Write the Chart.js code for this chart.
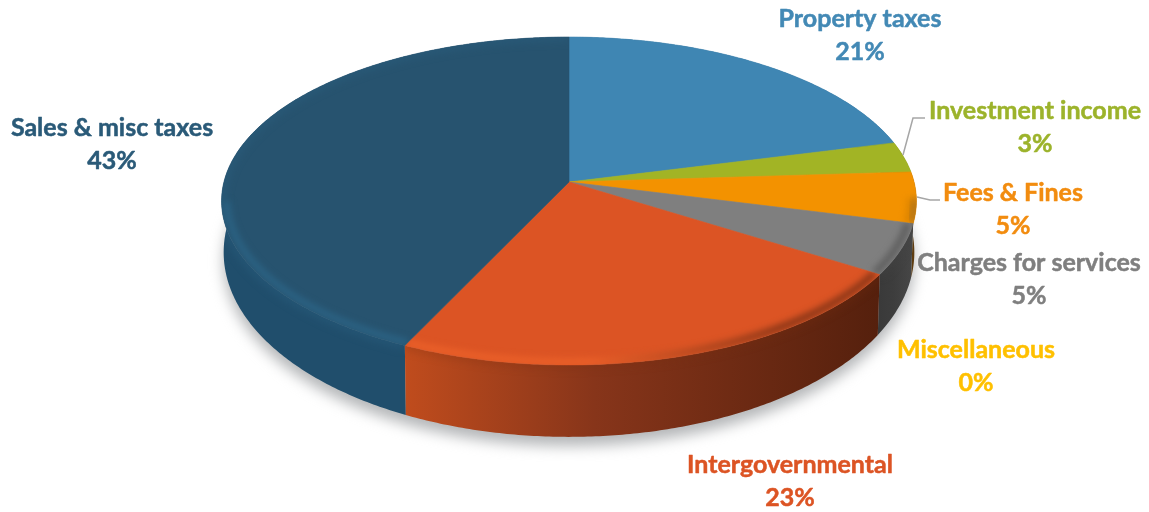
<!DOCTYPE html>
<html>
<head>
<meta charset="utf-8">
<title>Revenue by source</title>
<script src="https://cdn.jsdelivr.net/npm/chart.js@4"></script>
<style>
  html, body { margin: 0; padding: 0; background: #fff; }
  #wrap { position: relative; width: 1149px; height: 512px; }
</style>
</head>
<body>
<div id="wrap"><canvas id="revenueChart"></canvas></div>
<script>
const categories = ['Property taxes', 'Investment income', 'Fees & Fines', 'Charges for services', 'Miscellaneous', 'Intergovernmental', 'Sales & misc taxes'];
const shares = [21, 3, 5, 5, 0, 23, 43];
const sliceColors = ['#3f86b3', '#a2b425', '#f39200', '#7f7f7f', '#ffc000', '#dc5424', '#27536f'];
const wallLeft = ['#2f6485', '#6d7a18', '#5e3c10', '#3a3a3a', '#b08600', '#c04c1d', '#204e6c'];
const wallMid = ['#2f6485', '#6d7a18', '#5e3c10', '#3d3d3d', '#b08600', '#87351a', '#1e4762'];
const wallRight = ['#2f6485', '#6d7a18', '#5e3c10', '#474747', '#b08600', '#55200d', '#1c4259'];
const rimColors = ['#4a93c0', '#aabc30', '#d88200', '#5e5e5e', '#ffc000', '#ea6029', '#2b6283'];
const labelColors = ['#4389b5', '#9cb32b', '#f28c0f', '#7f7f7f', '#ffc000', '#dc5424', '#2a5a78'];

// label centres, one per category
const labelX = [860, 1035, 1013, 1029, 976, 790, 112];
const labelY = [19, 111, 193, 263, 350, 465, 128];
const lineGap = 32.5;

// tilt of the disc: circle radius -> screen radii, plus perspective
const tiltX = 1.896;
const tiltY = 0.889;
const persp = 0.116;
const baseDrop = 49;
const baseTiltY = 1.0;
const baseInset = 0.994;

function toScreen(arc, a, scale, onBase) {
    const u = Math.cos(a) * scale, v = Math.sin(a) * scale;
    const w = 1 - persp * v;
    const R = arc.outerRadius;
    if (onBase) {
        return [arc.x + R * tiltX * baseInset * u / w, arc.y + baseDrop + R * baseTiltY * v / w];
    }
    return [arc.x + R * tiltX * u / w, arc.y + R * tiltY * v / w];
}

function curve(ctx, arc, from, to, scale, onBase, join) {
    const steps = Math.max(2, Math.ceil(Math.abs(to - from) / 0.01));
    for (let i = 0; i <= steps; i++) {
        const p = toScreen(arc, from + (to - from) * i / steps, scale, onBase);
        if (i === 0 && !join) ctx.moveTo(p[0], p[1]);
        else ctx.lineTo(p[0], p[1]);
    }
}

function slicePath(ctx, arc) {
    ctx.beginPath();
    ctx.moveTo(arc.x, arc.y);
    curve(ctx, arc, arc.startAngle, arc.endAngle, 1, false, true);
    ctx.closePath();
}

function wallPath(ctx, arc) {
    ctx.beginPath();
    curve(ctx, arc, arc.startAngle, arc.endAngle, 1, false, false);
    curve(ctx, arc, arc.endAngle, arc.startAngle, 1, true, true);
    ctx.closePath();
}

const tiltedPie = {
    id: 'tiltedPie',
    beforeDatasetsDraw(chart) {
        const ctx = chart.ctx;
        const arcs = chart.getDatasetMeta(0).data;
        const first = arcs[0];

        // soft shadow under the disc
        ctx.save();
        ctx.filter = 'blur(7px)';
        ctx.fillStyle = '#b4b6b8';
        ctx.translate(0, 9);
        ctx.beginPath();
        curve(ctx, first, 0, Math.PI * 2, 1, true, false);
        ctx.closePath();
        ctx.fill();
        ctx.restore();

        // outer walls, rear ones first
        const order = arcs.map((a, i) => i).sort((p, q) =>
            Math.sin((arcs[p].startAngle + arcs[p].endAngle) / 2) - Math.sin((arcs[q].startAngle + arcs[q].endAngle) / 2));
        order.forEach(i => {
            const arc = arcs[i];
            if (arc.endAngle - arc.startAngle <= 0) return;
            const a = toScreen(arc, arc.startAngle, 1, false);
            const b = toScreen(arc, arc.endAngle, 1, false);
            const g = ctx.createLinearGradient(Math.min(a[0], b[0]), 0, Math.max(a[0], b[0]), 0);
            g.addColorStop(0, wallLeft[i]);
            g.addColorStop(0.4, wallMid[i]);
            g.addColorStop(1, wallRight[i]);
            ctx.fillStyle = g;
            wallPath(ctx, arc);
            ctx.fill();
        });

        // top faces
        arcs.forEach((arc, i) => {
            if (arc.endAngle - arc.startAngle <= 0) return;
            ctx.fillStyle = sliceColors[i];
            ctx.strokeStyle = sliceColors[i];
            ctx.lineWidth = 0.6;
            slicePath(ctx, arc);
            ctx.fill();
            ctx.stroke();
        });

        // rounded rim: a lighter band just inside the front edge of each face
        arcs.forEach((arc, i) => {
            const from = Math.max(arc.startAngle, 0.1);
            const to = Math.min(arc.endAngle, Math.PI - 0.12);
            if (to <= from) return;
            ctx.save();
            slicePath(ctx, arc);
            ctx.clip();
            ctx.filter = 'blur(3px)';
            const g = ctx.createLinearGradient(400, 0, 780, 0);
            g.addColorStop(0, rimColors[i]);
            g.addColorStop(0.5, rimColors[i]);
            g.addColorStop(1, i === 5 ? '#8a3617' : rimColors[i]);
            ctx.strokeStyle = g;
            ctx.lineWidth = 7;
            ctx.beginPath();
            curve(ctx, arc, from, to, 0.985, false, false);
            ctx.stroke();
            ctx.restore();
        });

        // soften the seam where face meets wall, on the front half only
        arcs.forEach((arc, i) => {
            if (arc.endAngle - arc.startAngle <= 0 || arc.endAngle < 0.1) return;
            ctx.save();
            wallPath(ctx, arc);
            ctx.clip();
            ctx.filter = 'blur(4px)';
            ctx.strokeStyle = i === 6 ? 'rgba(43,98,131,0.55)' : i === 5 ? 'rgba(120,45,15,0.35)' : 'rgba(70,70,70,0.5)';
            ctx.lineWidth = 6;
            ctx.beginPath();
            curve(ctx, arc, Math.max(arc.startAngle, 0.1), arc.endAngle, 1, false, false);
            ctx.stroke();
            ctx.restore();
        });

        return false;
    },
    // afterDatasetsDraw does not fire once the default draw is cancelled
    afterDraw(chart) {
        const ctx = chart.ctx;
        // leader lines for the two thin slices
        ctx.strokeStyle = '#a6a6a6';
        ctx.lineWidth = 1.5;
        ctx.beginPath();
        ctx.moveTo(903, 155);
        ctx.lineTo(913, 118);
        ctx.lineTo(925, 118);
        ctx.moveTo(917, 197);
        ctx.lineTo(930, 200);
        ctx.lineTo(940, 200);
        ctx.stroke();

        ctx.font = 'bold 25px Lato';
        ctx.textAlign = 'center';
        ctx.textBaseline = 'middle';
        ctx.lineWidth = 0.5;
        ctx.lineJoin = 'round';
        categories.forEach((name, i) => {
            ctx.fillStyle = labelColors[i];
            ctx.strokeStyle = labelColors[i];
            ctx.fillText(name, labelX[i], labelY[i]);
            ctx.strokeText(name, labelX[i], labelY[i]);
            ctx.fillText(shares[i] + '%', labelX[i], labelY[i] + lineGap);
            ctx.strokeText(shares[i] + '%', labelX[i], labelY[i] + lineGap);
        });
    }
};

new Chart(document.getElementById('revenueChart').getContext('2d'), {
    type: 'pie',
    data: {
        labels: categories,
        datasets: [{ data: shares, backgroundColor: sliceColors, borderWidth: 0 }]
    },
    options: {
        responsive: true,
        maintainAspectRatio: false,
        animation: false,
        layout: { padding: { right: 11, bottom: 148 } },
        plugins: { legend: { display: false }, tooltip: { enabled: false } }
    },
    plugins: [tiltedPie]
});
</script>
</body>
</html>
